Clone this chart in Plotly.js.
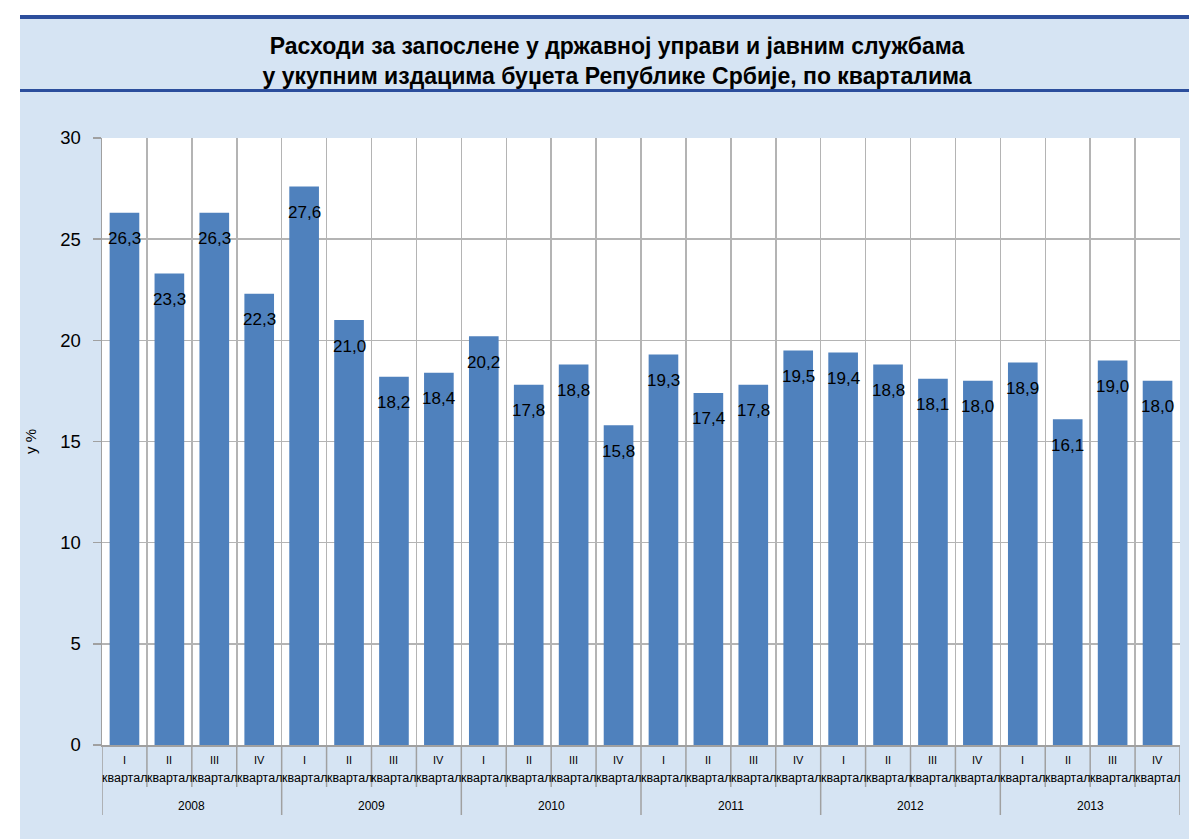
<!DOCTYPE html>
<html>
<head>
<meta charset="utf-8">
<script src="https://cdn.plot.ly/plotly-3.0.1.min.js"></script>
<style>
  html, body { margin: 0; padding: 0; background: #ffffff; }
  #bg { position: absolute; left: 20px; top: 16px; width: 1169px; height: 823px; background: #d6e4f3; }
  #line1 { position: absolute; left: 20px; top: 15px; width: 1169px; height: 4px; background: #2c4e9c; }
  #line2 { position: absolute; left: 20px; top: 89px; width: 1169px; height: 3px; background: #2c4e9c; }
  #chart { position: absolute; left: 0; top: 0; width: 1189px; height: 839px; }
</style>
</head>
<body>
<div id="bg"></div>
<div id="line1"></div>
<div id="line2"></div>
<div id="chart"></div>
<script>
const years = ["2008", "2009", "2010", "2011", "2012", "2013"];
const quarters = ["I", "II", "III", "IV"];
const quarterWord = "квартал";
const values = [26.3, 23.3, 26.3, 22.3, 27.6, 21.0, 18.2, 18.4, 20.2, 17.8, 18.8, 15.8,
                19.3, 17.4, 17.8, 19.5, 19.4, 18.8, 18.1, 18.0, 18.9, 16.1, 19.0, 18.0];
const yTicks = [0, 5, 10, 15, 20, 25, 30];
const titleText = "Расходи за запослене у државној управи и јавним службама<br>у укупним издацима буџета Републике Србије, по кварталима";
const yTitle = "у %";

const plotH = 607;
const idx = values.map((v, i) => i);
const fmt = v => v.toFixed(1).replace(".", ",");
const annotations = [];
const shapes = [];
const FONT = "Liberation Sans, Arial, sans-serif";

values.forEach((v, i) => {
  annotations.push({x: i, y: v, xref: "x", yref: "y", text: fmt(v), showarrow: false,
    yanchor: "middle", yshift: -26, font: {family: FONT, size: 17, color: "#000"}});
  annotations.push({x: i, y: 0, xref: "x", yref: "paper", text: quarters[i % 4], showarrow: false,
    yanchor: "middle", yshift: -15, font: {family: FONT, size: 11, color: "#000"}});
  annotations.push({x: i, y: 0, xref: "x", yref: "paper", text: quarterWord, showarrow: false,
    yanchor: "middle", yshift: -33, font: {family: FONT, size: 12.5, color: "#000"}});
});
years.forEach((yr, k) => {
  annotations.push({x: 4 * k + 1.5, y: 0, xref: "x", yref: "paper", text: yr, showarrow: false,
    yanchor: "middle", yshift: -61, font: {family: FONT, size: 12, color: "#000"}});
});
for (let b = 0; b <= values.length; b++) {
  const isYear = b % 4 === 0;
  shapes.push({type: "line", xref: "x", yref: "paper", x0: b - 0.5, x1: b - 0.5,
    y0: 0, y1: -(isYear ? 70 : 42) / plotH, line: {color: "#a0a0a0", width: 1.5}});
}

const gridVals = [];
for (let b = 0; b <= values.length; b++) gridVals.push(b - 0.5);

const data = [{
  type: "bar", x: idx, y: values, width: 0.66,
  marker: {color: "#4f81bd", line: {width: 0}},
  hoverinfo: "y"
}];

const layout = {
  width: 1189, height: 839,
  margin: {l: 102, r: 9, t: 138, b: 94},
  paper_bgcolor: "rgba(0,0,0,0)",
  plot_bgcolor: "#ffffff",
  showlegend: false,
  title: {text: titleText, x: 617 / 1189, xanchor: "center", y: 1 - 54 / 839, yanchor: "middle",
    font: {family: FONT, size: 23, color: "#000", weight: "bold"}},
  xaxis: {range: [-0.5, values.length - 0.5], tickvals: gridVals, showticklabels: false, ticks: "",
    showgrid: true, gridcolor: "#b4b4b4", gridwidth: 1.5, zeroline: false,
    showline: true, linecolor: "#a0a0a0", linewidth: 1.5, fixedrange: true},
  yaxis: {range: [0, 30], tickvals: yTicks, ticks: "outside", ticklen: 8, tickcolor: "#a0a0a0", tickwidth: 1.5,
    ticklabelstandoff: 8,
    showgrid: true, gridcolor: "#b4b4b4", gridwidth: 1.5, zeroline: false,
    showline: true, linecolor: "#a0a0a0", linewidth: 1.5,
    tickfont: {family: FONT, size: 18.5, color: "#000"},
    title: {text: yTitle, standoff: 20, font: {family: FONT, size: 15, color: "#000"}}},
  annotations: annotations,
  shapes: shapes
};

Plotly.newPlot("chart", data, layout, {displayModeBar: false, staticPlot: true});
</script>
</body>
</html>
